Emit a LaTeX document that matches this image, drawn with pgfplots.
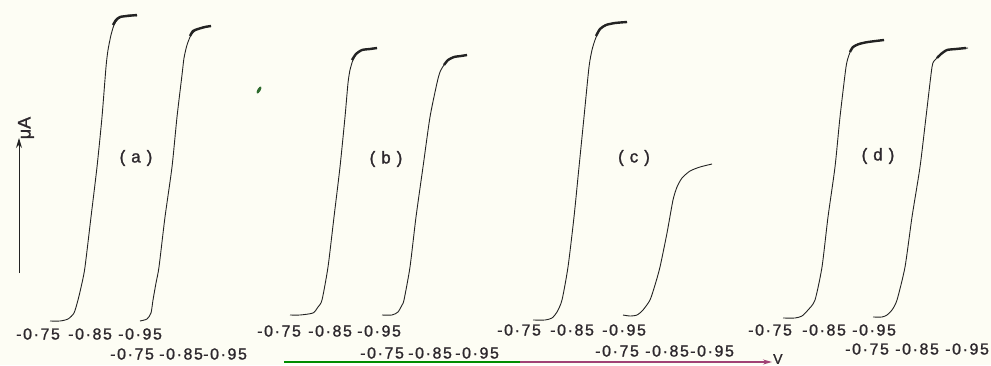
\documentclass[border=0pt]{standalone}
\usepackage{fontspec}
\setmainfont{Liberation Sans}
\usepackage{pgfplots}
\pgfplotsset{compat=1.18}
\usetikzlibrary{arrows.meta}
\definecolor{bgc}{RGB}{253,253,244}
\definecolor{ink}{RGB}{35,35,35}
\definecolor{txt}{RGB}{45,40,45}
\newfontfamily\lbl[LetterSpace=10,FakeBold=1.2]{Liberation Sans}
\newfontfamily\lblb[FakeBold=1.4]{Liberation Sans}
\begin{document}
\begin{tikzpicture}
\fill[bgc] (0,0) rectangle (991pt,365pt);
\begin{axis}[at={(0,0)},anchor=south west,width=991pt,height=365pt,scale only axis,
  xmin=0,xmax=991,ymin=0,ymax=365,y dir=reverse,hide axis,clip=false]
% (a)
\addplot[ink,line width=0.9pt,smooth,tension=0.4] coordinates {(50,321)(60,321)(68,319)(74,313)(78,300)(82,283)(85,267)(91,217)(97,167)(102,117)(106,67)(108,50)(111,35)(114,25)(118,19)(124,16)(130,15)(137,16)};
\addplot[ink,line width=2.4pt,smooth,tension=0.4] coordinates {(113,25)(116,20)(120,17)(127,16)(137,15)};
\addplot[ink,line width=0.9pt,smooth,tension=0.4] coordinates {(140,321)(147,319)(151,313)(153,300)(156,283)(159,267)(165,217)(172,167)(177,117)(182,75)(184,58)(187,45)(191,35)(196,30)(203,27)(211,26)};
\addplot[ink,line width=2.4pt,smooth,tension=0.4] coordinates {(190,36)(193,31)(198,29)(205,27)(211,26)};
% (b)
\addplot[ink,line width=0.9pt,smooth,tension=0.4] coordinates {(290,315)(300,315)(313,313)(318,307)(322,300)(328,267)(334,217)(340,167)(345,117)(348,83)(350,70)(353,60)(358,52)(366,49)(377,48)};
\addplot[ink,line width=2.4pt,smooth,tension=0.4] coordinates {(352,60)(356,54)(362,50)(370,49)(377,48)};
\addplot[ink,line width=0.9pt,smooth,tension=0.4] coordinates {(382,315)(392,315)(398,312)(402,305)(404,300)(410,267)(416,217)(423,167)(430,117)(437,83)(440,72)(444,65)(450,59)(458,56)(467,55)};
\addplot[ink,line width=2.4pt,smooth,tension=0.4] coordinates {(444,65)(448,60)(454,57)(461,56)(467,55)};
% (c)
\addplot[ink,line width=0.9pt,smooth,tension=0.4] coordinates {(533,320)(545,320)(552,318)(557,312)(562,300)(568,267)(574,217)(579,167)(584,117)(589,67)(592,50)(595,40)(599,31)(605,25)(615,23)(627,22)};
\addplot[ink,line width=2.4pt,smooth,tension=0.4] coordinates {(596,36)(600,29)(606,25)(615,23)(627,22)};
\addplot[ink,line width=0.9pt,smooth,tension=0.4] coordinates {(623,315)(630,316)(637,315)(643,310)(650,300)(655,285)(660,267)(667,233)(673,200)(677,187)(682,178)(690,171)(700,167)(712,164)};
% (d)
\addplot[ink,line width=0.9pt,smooth,tension=0.4] coordinates {(783,318)(795,318)(802,316)(808,310)(815,300)(822,267)(828,217)(835,167)(840,117)(846,67)(849,55)(852,48)(858,44)(868,42)(884,40)};
\addplot[ink,line width=2.4pt,smooth,tension=0.4] coordinates {(850,52)(853,47)(859,44)(868,42)(884,40)};
\addplot[ink,line width=0.9pt,smooth,tension=0.4] coordinates {(873,317)(882,317)(887,315)(892,310)(897,300)(905,267)(912,217)(920,167)(926,117)(932,67)(935,60)(940,55)(947,50)(956,49)(968,48)};
\addplot[ink,line width=2.4pt,smooth,tension=0.4] coordinates {(937,58)(941,54)(947,50)(956,49)(966,48)};
% potential labels
\begin{scope}[every node/.style={anchor=west,inner sep=0pt,text=txt,font=\fontsize{16}{16}\selectfont\lbl}]
\node at (axis cs:16,334) {-0·75}; \node at (axis cs:68,334) {-0·85}; \node at (axis cs:118,334) {-0·95};
\node at (axis cs:110,354) {-0·75}; \node at (axis cs:159,354) {-0·85}; \node at (axis cs:203,354) {-0·95};
\node at (axis cs:257,331) {-0·75}; \node at (axis cs:308,331) {-0·85}; \node at (axis cs:357,331) {-0·95};
\node at (axis cs:360,353) {-0·75}; \node at (axis cs:408,353) {-0·85}; \node at (axis cs:455,353) {-0·95};
\node at (axis cs:497,330) {-0·75}; \node at (axis cs:550,330) {-0·85}; \node at (axis cs:602,330) {-0·95};
\node at (axis cs:595,351) {-0·75}; \node at (axis cs:645,351) {-0·85}; \node at (axis cs:690,351) {-0·95};
\node at (axis cs:748,330) {-0·75}; \node at (axis cs:802,330) {-0·85}; \node at (axis cs:852,330) {-0·95};
\node at (axis cs:845,349) {-0·75}; \node at (axis cs:895,349) {-0·85}; \node at (axis cs:945,349) {-0·95};
\end{scope}
% panel letters
\begin{scope}[every node/.style={inner sep=0pt,text=txt,font=\fontsize{17}{17}\selectfont\lblb}]
\node at (axis cs:136,158) {(\hspace{6pt}a\hspace{6pt})};
\node at (axis cs:386,159) {(\hspace{6pt}b\hspace{6pt})};
\node at (axis cs:634,158) {(\hspace{6pt}c\hspace{6pt})};
\node at (axis cs:878,156) {(\hspace{6pt}d\hspace{6pt})};
\end{scope}
% current axis arrow
\draw[ink,line width=1pt,-{Stealth[length=10pt,width=6pt]}] (axis cs:19,273) -- (axis cs:19,138);
\node[rotate=90,inner sep=0pt,text=txt,font=\fontsize{18}{18}\selectfont\lblb] at (axis cs:26,128) {μA};
% voltage arrow
\draw[line width=1.2pt,color=green!55!black] (axis cs:284,362) -- (axis cs:520,362);
\draw[line width=1.2pt,color=magenta!60!black,-{Stealth[length=9pt,width=5pt]}] (axis cs:520,362) -- (axis cs:772,362);
\node[anchor=west,inner sep=0pt,text=txt,font=\fontsize{14}{14}\selectfont\lblb] at (axis cs:773,359) {V};
% pen mark
\fill[gray!60!green!60!black,rotate around={60:(axis cs:259,90)}] (axis cs:259,90) ellipse (4pt and 1.6pt);
\end{axis}
\pgfresetboundingbox
\path[use as bounding box] (0,0) rectangle (991pt,365pt);
\end{tikzpicture}
\end{document}
